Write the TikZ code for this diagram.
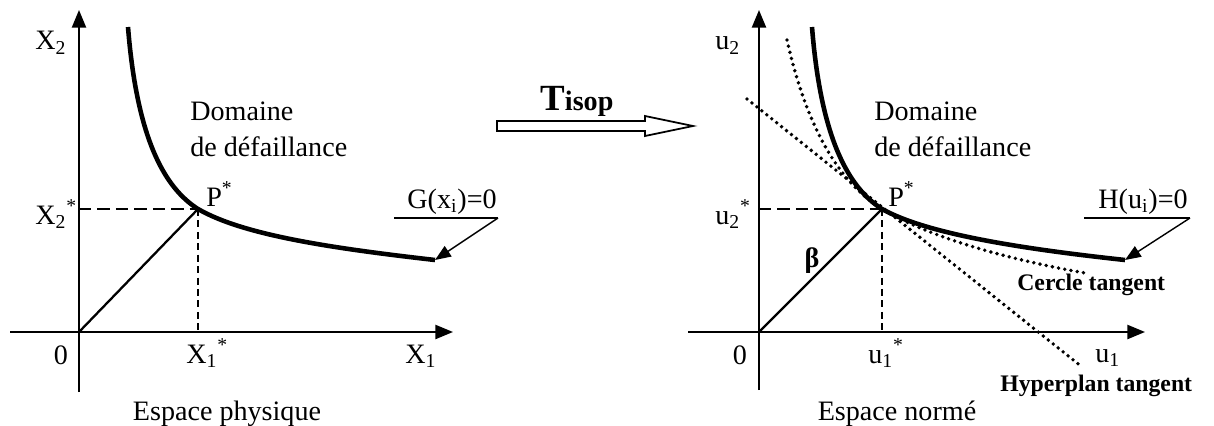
\documentclass[tikz,border=0pt]{standalone}
\usepackage{fontspec}
\setmainfont{Liberation Serif}
\usetikzlibrary{arrows.meta}

\tikzset{
  axe/.style={line width=1.1pt,-{Triangle[length=10pt,width=8pt]}},
  courbe/.style={line width=2.6pt},
  tirets/.style={line width=0.8pt,dash pattern=on 7pt off 3.5pt},
  tiretsv/.style={line width=0.8pt,dash pattern=on 4pt off 2.5pt},
  pointilles/.style={line width=2.2pt,line cap=round,dash pattern=on 0pt off 3.6pt},
  fleche/.style={line width=0.8pt,-{Triangle[length=9pt,width=7pt]}},
  txt/.style={font=\fontsize{16}{19}\selectfont,inner sep=0pt},
  gras/.style={font=\fontsize{13.5}{16}\selectfont\bfseries,inner sep=0pt}
}

\begin{document}
\begin{tikzpicture}[x=0.02cm,y=-0.02cm]
\useasboundingbox (0,0) rectangle (1214,426);

% espace physique
\coordinate (O1) at (79,332);
\coordinate (P1) at (198,209);
\coordinate (G1) at (435,260);
\coordinate (a1) at (79,392);
\coordinate (a2) at (79,10);
\coordinate (a3) at (10,332);
\coordinate (a4) at (453,332);
\draw[axe] (a1) -- (a2);
\draw[axe] (a3) -- (a4);
\draw[courbe] (128,27) .. controls (137,140) and (165,188) .. (P1)
  .. controls (243,235) and (330,248) .. (G1);
\draw[tirets] (O1 |- P1) -- (P1);
\draw[tiretsv] (P1) -- (P1 |- O1);
\draw[line width=1.3pt] (O1) -- (P1);
\coordinate (g1) at (394,218);
\coordinate (g2) at (498,218);
\draw[line width=1pt] (g1) -- (g2);
\draw[fleche] (g2) -- (G1);

\node[txt,anchor=base west] (X2) at (35,50) {X\textsubscript{2}};
\node[txt,anchor=base west] (X2e) at (35,224) {X\textsubscript{2}\textsuperscript{*}};
\node[txt,anchor=base] (zero1) at (61,364) {0};
\node[txt,anchor=base west] (X1e) at (186,363) {X\textsubscript{1}\textsuperscript{*}};
\node[txt,anchor=base west] (X1) at (405,363) {X\textsubscript{1}};
\node[txt,anchor=base west] (Pe1) at (206,206) {P\textsuperscript{*}};
\node[txt,anchor=base west] (G) at (407,208) {G(x\textsubscript{i})=0};
\node[txt,anchor=base west] (dom1) at (190,120) {Domaine};
\node[txt,anchor=base west] (def1) at (190,156) {de défaillance};
\node[txt,anchor=base] (esp1) at (227,420) {Espace physique};

% transformation
\draw[line width=1pt] (497,121) -- (645,121) -- (645,116) -- (693,126)
  -- (645,136) -- (645,131) -- (497,131) -- cycle;
\node[anchor=base west,inner sep=0pt] (T) at (540,110)
  {\bfseries\fontsize{21}{24}\selectfont T\fontsize{16}{19}\selectfont isop};

% espace norme
\coordinate (O2) at (759,332);
\coordinate (P2) at (882,209);
\coordinate (G2) at (1125,260);
\coordinate (b1) at (759,390);
\coordinate (b2) at (759,10);
\coordinate (b3) at (688,332);
\coordinate (b4) at (1145,332);
\draw[axe] (b1) -- (b2);
\draw[axe] (b3) -- (b4);
\draw[courbe] (812,27) .. controls (821,140) and (849,188) .. (P2)
  .. controls (925,233) and (1014,248) .. (G2);
\draw[tirets] (O2 |- P2) -- (P2);
\draw[tiretsv] (P2) -- (P2 |- O2);
\draw[line width=1.3pt] (O2) -- (P2);
% hyperplan et cercle tangents
\coordinate (h1) at (747,99);
\coordinate (h2) at (1082,367);
\draw[pointilles] (h1) -- (h2);
\draw[pointilles] (787,40) .. controls (805,120) and (835,180) .. (P2)
  .. controls (925,235) and (1000,258) .. (1085,273);
\coordinate (k1) at (1084,218);
\coordinate (k2) at (1190,218);
\draw[line width=1pt] (k1) -- (k2);
\draw[fleche] (k2) -- (G2);

\node[txt,anchor=base west] (u2) at (715,50) {u\textsubscript{2}};
\node[txt,anchor=base west] (u2e) at (715,224) {u\textsubscript{2}\textsuperscript{*}};
\node[txt,anchor=base] (zero2) at (740,364) {0};
\node[txt,anchor=base west] (u1e) at (868,363) {u\textsubscript{1}\textsuperscript{*}};
\node[txt,anchor=base west] (u1) at (1095,362) {u\textsubscript{1}};
\node[txt,anchor=base west] (Pe2) at (888,206) {P\textsuperscript{*}};
\node[txt,anchor=base west] (H) at (1098,208) {H(u\textsubscript{i})=0};
\node[txt,anchor=base west] (dom2) at (874,120) {Domaine};
\node[txt,anchor=base west] (def2) at (874,156) {de défaillance};
\node[txt,font=\fontsize{16}{19}\selectfont\bfseries,anchor=base] (beta) at (812,267) {β};
\node[gras,anchor=base west] (cercle) at (1017,290) {Cercle tangent};
\node[gras,anchor=base west] (hyper) at (1000,391) {Hyperplan tangent};
\node[txt,anchor=base] (esp2) at (897,420) {Espace normé};
\end{tikzpicture}
\end{document}
